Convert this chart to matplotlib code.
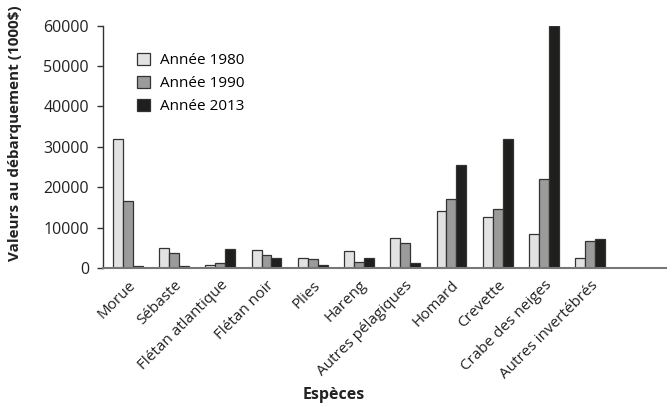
import matplotlib
matplotlib.use("Agg")
import matplotlib.pyplot as plt
import numpy as np

categories = ["Morue", "Sébaste", "Flétan atlantique", "Flétan noir", "Plies",
              "Hareng", "Autres pélagiques", "Homard", "Crevette",
              "Crabe des neiges", "Autres invertébrés"]
v1980 = [32000, 5000, 800, 4500, 2500, 4300, 7500, 14000, 12700, 8500, 2400]
v1990 = [16700, 3800, 1200, 3300, 2200, 1500, 6200, 17100, 14600, 22100, 6700]
v2013 = [400, 400, 4800, 2500, 800, 2500, 1200, 25600, 32000, 60000, 7200]
series_labels = ["Année 1980", "Année 1990", "Année 2013"]
yticks = [0, 10000, 20000, 30000, 40000, 50000, 60000]

plt.rcParams['font.family'] = ['Open Sans', 'DejaVu Sans']

fig = plt.figure(figsize=(6.72, 4.07), dpi=100)
ax = fig.add_axes([0.153, 0.3415, 0.838, 0.5955])

x = np.arange(len(categories))
w = 0.215
colors = ["#e2e2e2", "#9b9b9b", "#1f1f1d"]
for i, (vals, lab, c) in enumerate(zip([v1980, v1990, v2013], series_labels, colors)):
    ax.bar(x + (i - 1) * w, vals, width=w, color=c, edgecolor="#333333",
           linewidth=0.9, label=lab)

ax.set_xlim(-0.54, 11.64)
ax.set_ylim(0, 60000)
ax.set_yticks(yticks)
ax.set_yticklabels([str(t) for t in yticks], fontsize=11.5, color="#222222")
ax.set_xticks(x)
ax.set_xticklabels(categories, rotation=45, ha="right", rotation_mode="anchor",
                   fontsize=11, color="#222222")
ax.tick_params(axis="x", length=0, pad=7)
ax.tick_params(axis="y", length=4, width=1, color="#333333", pad=6)

for s in ["top", "right"]:
    ax.spines[s].set_visible(False)
ax.spines["left"].set_color("#333333")
ax.spines["bottom"].set_color("#777777")
ax.spines["left"].set_linewidth(1)
ax.spines["bottom"].set_linewidth(1.5)

fig.text(334 / 672, 1 - 395 / 407, "Espèces", fontsize=11.5, fontweight="bold",
         ha="center", va="center", color="#222222")
fig.text(15 / 672, 1 - 133 / 407, "Valeurs au débarquement (1000$)", fontsize=11,
         fontweight="bold", rotation=90, ha="center", va="center", color="#222222")

leg = ax.legend(loc="upper left", bbox_to_anchor=(0.036, 0.945), frameon=False,
                fontsize=11, handlelength=0.85, handleheight=0.85,
                handletextpad=0.65, labelspacing=0.5)

fig.savefig("out.png", dpi=100)
